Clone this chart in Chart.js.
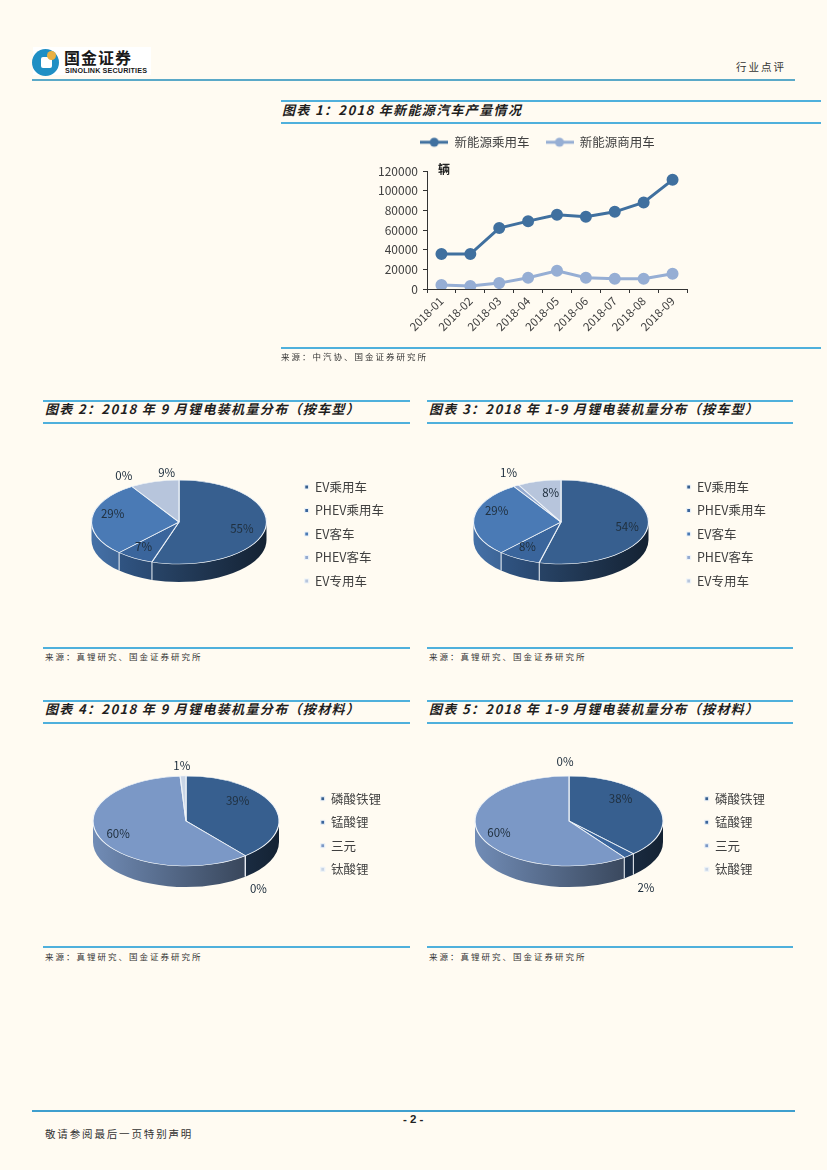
<!DOCTYPE html>
<html>
<head>
<meta charset="utf-8">
<script src="https://cdn.jsdelivr.net/npm/chart.js@4"></script>
<style>
html, body { margin: 0; padding: 0; background: #fffbf2; }
#page { position: relative; width: 827px; height: 1170px; overflow: hidden; background: #fffbf2; font-family: "Noto Sans CJK SC", sans-serif; color: #262626; }
#page > * { position: absolute; }
.rule { height: 2px; background: #4fb0dc; }
.title { font-size: 13px; line-height: 16px; font-weight: 700; font-style: italic; letter-spacing: 1.35px; white-space: pre; color: #1f1f1f; }
.source { font-size: 8.5px; line-height: 12px; letter-spacing: 2px; white-space: pre; color: #333; font-family: "Noto Sans CJK SC", sans-serif; }
</style>
</head>
<body>
<div id="page">
  <div style="left:33px;top:47px;width:118px;height:28px;background:#fff"></div>
  <div style="left:32px;top:49px;width:27px;height:27px;border-radius:50%;background:#1f8fc4"></div>
  <div style="left:41px;top:57px;width:11px;height:11px;background:#fff;border-radius:2px"></div>
  <div style="left:47px;top:51px;width:9px;height:9px;border-radius:50%;background:#e9b042"></div>
  <div style="left:64px;top:47px;font-size:16px;line-height:20px;font-weight:700;color:#1a1a1a;letter-spacing:1px">国金证券</div>
  <div style="left:65px;top:65.5px;font-size:7.2px;line-height:10px;font-weight:700;color:#1a1a1a;font-family:'Liberation Sans',sans-serif;letter-spacing:0.14px">SINOLINK SECURITIES</div>
  <div style="left:32px;top:79px;width:763px;height:1.5px;background:#5aa9c8"></div>
  <div style="left:736px;top:60px;font-size:10.5px;line-height:14px;letter-spacing:2px;color:#333">行业点评</div>

  <div class="rule" style="left:281px;top:100px;width:540px"></div>
  <div class="title" style="left:282px;top:102px">图表 1&#xFF1A;2018 年新能源汽车产量情况</div>
  <div class="rule" style="left:281px;top:122px;width:540px"></div>
  <canvas id="lineChart" width="318" height="230" style="left:370px;top:120px"></canvas>
  <div style="left:438px;top:161px;font-size:12px;line-height:16px;font-weight:700;color:#222">辆</div>
  <div class="rule" style="left:281px;top:347px;width:540px"></div>
  <div class="source" style="left:281px;top:350px">来源&#xFF1A;中汽协、国金证券研究所</div>

  <div class="rule" style="left:43px;top:400px;width:367px"></div>
  <div class="title" style="left:45px;top:401px">图表 2&#xFF1A;2018 年 9 月锂电装机量分布&#xFF08;按车型&#xFF09;</div>
  <div class="rule" style="left:43px;top:422px;width:367px"></div>
  <canvas id="pie2" width="350" height="190" style="left:44px;top:439px"></canvas>
  <div class="rule" style="left:43px;top:647px;width:367px"></div>
  <div class="source" style="left:45px;top:650px">来源&#xFF1A;真锂研究、国金证券研究所</div>

  <div class="rule" style="left:427px;top:400px;width:366px"></div>
  <div class="title" style="left:429px;top:401px">图表 3&#xFF1A;2018 年 1-9 月锂电装机量分布&#xFF08;按车型&#xFF09;</div>
  <div class="rule" style="left:427px;top:422px;width:366px"></div>
  <canvas id="pie3" width="350" height="190" style="left:426px;top:439px"></canvas>
  <div class="rule" style="left:427px;top:647px;width:366px"></div>
  <div class="source" style="left:429px;top:650px">来源&#xFF1A;真锂研究、国金证券研究所</div>

  <div class="rule" style="left:43px;top:700px;width:367px"></div>
  <div class="title" style="left:45px;top:701px">图表 4&#xFF1A;2018 年 9 月锂电装机量分布&#xFF08;按材料&#xFF09;</div>
  <div class="rule" style="left:43px;top:722px;width:367px"></div>
  <canvas id="pie4" width="347" height="190" style="left:44px;top:739px"></canvas>
  <div class="rule" style="left:43px;top:946px;width:367px"></div>
  <div class="source" style="left:45px;top:950px">来源&#xFF1A;真锂研究、国金证券研究所</div>

  <div class="rule" style="left:427px;top:700px;width:366px"></div>
  <div class="title" style="left:429px;top:701px">图表 5&#xFF1A;2018 年 1-9 月锂电装机量分布&#xFF08;按材料&#xFF09;</div>
  <div class="rule" style="left:427px;top:722px;width:366px"></div>
  <canvas id="pie5" width="349" height="190" style="left:426px;top:739px"></canvas>
  <div class="rule" style="left:427px;top:946px;width:366px"></div>
  <div class="source" style="left:429px;top:950px">来源&#xFF1A;真锂研究、国金证券研究所</div>

  <div style="left:32px;top:1110px;width:763px;height:1.5px;background:#3f9fce"></div>
  <div style="left:403px;top:1112px;font-size:11.5px;line-height:14px;font-weight:700;font-family:'Liberation Sans',sans-serif;color:#222">- 2 -</div>
  <div style="left:45px;top:1126px;font-size:10.5px;line-height:16px;letter-spacing:1.85px;color:#333">敬请参阅最后一页特别声明</div>
</div>

<script>
// Chart 1 data
const months = ['2018-01', '2018-02', '2018-03', '2018-04', '2018-05', '2018-06', '2018-07', '2018-08', '2018-09'];
const passengerCars = [35500, 35500, 62000, 69000, 75500, 73500, 78500, 88000, 111000];
const commercialCars = [4000, 3000, 6000, 11500, 18500, 11500, 10500, 10500, 15500];
const yTicksMax = 120000;
const yTicksStep = 20000;

// Pie data, in percent
const vehicleTypes = ['EV乘用车', 'PHEV乘用车', 'EV客车', 'PHEV客车', 'EV专用车'];
const septByVehicle = [55, 7, 29, 0, 9];
const ytdByVehicle = [54, 8, 29, 1, 8];
const materials = ['磷酸铁锂', '锰酸锂', '三元', '钛酸锂'];
const septByMaterial = [39, 0, 60, 1];
const ytdByMaterial = [38, 2, 60, 0];

const vehicleColors = ['#375f8f', '#3a659c', '#4a7ab5', '#94aad0', '#b7c5dc'];
const materialColors = ['#375f8f', '#3a659c', '#7b98c6', '#c9d5e6'];

const TEXT = '#404040';
const FONT = '"Noto Sans CJK SC", sans-serif';

function shade(hex, f) {
    const n = parseInt(hex.slice(1), 16);
    const r = Math.round((n >> 16) * f);
    const g = Math.round(((n >> 8) & 255) * f);
    const b = Math.round((n & 255) * f);
    return `rgb(${r},${g},${b})`;
}

// Squashes the library's arcs into an ellipse and adds the side wall of the pie
const pie3d = {
    id: 'pie3d',
    beforeDatasetsDraw(chart, args, opts) {
        const ctx = chart.ctx;
        const arcs = chart.getDatasetMeta(0).data;
        const colors = chart.data.datasets[0].backgroundColor;
        const r = arcs[0].outerRadius;
        const cx = opts.cx, cy = opts.cy, ry = opts.ry, d = opts.depth;

        ctx.save();
        arcs.forEach((arc, i) => {
            const a0 = Math.max(arc.startAngle, 0);
            const a1 = Math.min(arc.endAngle, Math.PI);
            if (a1 <= a0) return;
            const grad = ctx.createLinearGradient(cx - r, 0, cx + r, 0);
            grad.addColorStop(0, shade(colors[i], 0.92));
            grad.addColorStop(1, shade(colors[i], 0.36));
            ctx.beginPath();
            ctx.ellipse(cx, cy, r, ry, 0, a0, a1);
            ctx.ellipse(cx, cy + d, r, ry, 0, a1, a0, true);
            ctx.closePath();
            ctx.fillStyle = grad;
            ctx.fill();
        });
        // white seams between the slices on the wall
        ctx.strokeStyle = '#eef3f8';
        ctx.lineWidth = 1;
        arcs.forEach(arc => {
            const a = arc.endAngle;
            if (a <= 0 || a >= Math.PI) return;
            const x = cx + r * Math.cos(a), y = cy + ry * Math.sin(a);
            ctx.beginPath();
            ctx.moveTo(x, y);
            ctx.lineTo(x, y + d);
            ctx.stroke();
        });
        ctx.restore();

        ctx.save();
        ctx.translate(cx, cy);
        ctx.scale(1, ry / r);
        ctx.translate(-arcs[0].x, -arcs[0].y);
    },
    afterDatasetsDraw(chart, args, opts) {
        const ctx = chart.ctx;
        ctx.restore();
        const arcs = chart.getDatasetMeta(0).data;
        const values = chart.data.datasets[0].data;
        ctx.save();
        ctx.font = '11.5px ' + FONT;
        ctx.textAlign = 'center';
        ctx.textBaseline = 'middle';
        arcs.forEach((arc, i) => {
            const mid = (arc.startAngle + arc.endAngle) / 2;
            const nudge = opts.nudges[i];
            const x = opts.cx + 0.75 * arc.outerRadius * Math.cos(mid) + nudge[0];
            const y = opts.cy + 0.75 * opts.ry * Math.sin(mid) + nudge[1];
            ctx.fillStyle = '#20303f';
            ctx.fillText(values[i] + '%', x, y);
        });
        ctx.restore();
    }
};

function makePie(id, labels, values, colors, look) {
    new Chart(document.getElementById(id), {
        type: 'pie',
        data: {
            labels: labels,
            datasets: [{
                data: values,
                backgroundColor: colors,
                borderColor: '#eef3f8',
                borderWidth: 1.2,
                radius: look.r
            }]
        },
        options: {
            responsive: false,
            animation: false,
            devicePixelRatio: 1,
            plugins: {
                tooltip: { enabled: false },
                pie3d: look,
                legend: {
                    position: 'right',
                    labels: {
                        boxWidth: 4,
                        boxHeight: 4,
                        padding: look.rowGap,
                        color: TEXT,
                        font: { family: FONT, size: 12.5 }
                    }
                }
            }
        },
        plugins: [pie3d]
    });
}

// Canvas tops sit at 439 / 739, lefts at 44 / 426
makePie('pie2', vehicleTypes, septByVehicle, vehicleColors, {
    r: 87.5, cx: 135, cy: 83, ry: 42, depth: 18, rowGap: 11,
    nudges: [[-2, 2], [-2, -2], [-1, -5], [-20, -20], [6, -19]]
});
makePie('pie3', vehicleTypes, ytdByVehicle, vehicleColors, {
    r: 87.5, cx: 135, cy: 83, ry: 42, depth: 18, rowGap: 11,
    nudges: [[1, 1], [-2, -3], [1, -8], [-19, -22], [6, 1]]
});
makePie('pie4', materials, septByMaterial, materialColors, {
    r: 93, cx: 142, cy: 82, ry: 45, depth: 21, rowGap: 11,
    nudges: [[-14, -9], [28, 42], [-3, 0], [-2, -22]]
});
makePie('pie5', materials, ytdByMaterial, materialColors, {
    r: 94, cx: 143, cy: 82, ry: 45, depth: 21, rowGap: 11,
    nudges: [[-14, -10], [32, 41], [-3, 1], [-4, -26]]
});

// Legend key for the line chart: a short line with a dot on it
function lineKey(color) {
    const c = document.createElement('canvas');
    c.width = 28;
    c.height = 12;
    const g = c.getContext('2d');
    g.strokeStyle = color;
    g.lineWidth = 3;
    g.beginPath();
    g.moveTo(0, 6);
    g.lineTo(28, 6);
    g.stroke();
    g.fillStyle = color;
    g.beginPath();
    g.arc(14, 6, 4.5, 0, Math.PI * 2);
    g.fill();
    return c;
}

// Leaves room under the legend and centres it over the whole figure
const legendRoom = {
    id: 'legendRoom',
    beforeInit(chart) {
        const fit = chart.legend.fit;
        chart.legend.fit = function () {
            fit.call(this);
            this.height = 51;
        };
    },
    afterLayout(chart) {
        chart.legend.left += 9;
        chart.legend.right += 9;
    }
};

function initLineChart() {
    const series = [
        { label: '新能源乘用车', data: passengerCars, color: '#40709f' },
        { label: '新能源商用车', data: commercialCars, color: '#96aed4' }
    ];
    new Chart(document.getElementById('lineChart'), {
        type: 'line',
        data: {
            labels: months,
            datasets: series.map(s => ({
                label: s.label,
                data: s.data,
                borderColor: s.color,
                backgroundColor: s.color,
                borderWidth: 3,
                pointRadius: 4.5,
                pointBackgroundColor: s.color,
                pointBorderColor: s.color,
                tension: 0
            }))
        },
        options: {
            responsive: false,
            animation: false,
            devicePixelRatio: 1,
            layout: { autoPadding: false, padding: { right: 1 } },
            plugins: {
                tooltip: { enabled: false },
                legend: {
                    position: 'top',
                    labels: {
                        usePointStyle: true,
                        pointStyleWidth: 28,
                        boxHeight: 12,
                        padding: 16,
                        color: TEXT,
                        font: { family: FONT, size: 12.5 },
                        generateLabels: chart => chart.data.datasets.map((ds, i) => ({
                            text: ds.label,
                            datasetIndex: i,
                            fontColor: TEXT,
                            pointStyle: lineKey(ds.borderColor),
                            lineWidth: 0
                        }))
                    }
                }
            },
            scales: {
                x: {
                    offset: true,
                    afterFit: scale => { scale.height = 61; },
                    grid: { offset: true, drawOnChartArea: false, tickLength: 4, color: '#333' },
                    border: { color: '#333' },
                    ticks: {
                        minRotation: 45,
                        maxRotation: 45,
                        padding: 1,
                        autoSkip: false,
                        color: TEXT,
                        font: { family: FONT, size: 11.5 }
                    }
                },
                y: {
                    min: 0,
                    max: yTicksMax,
                    afterFit: scale => { scale.width = 57; },
                    grid: { drawOnChartArea: false, tickLength: 4, color: '#333' },
                    border: { color: '#333' },
                    ticks: {
                        stepSize: yTicksStep,
                        padding: 5,
                        callback: v => String(v),
                        color: TEXT,
                        font: { family: FONT, size: 12 }
                    }
                }
            }
        },
        plugins: [legendRoom]
    });
}

initLineChart();
</script>
</body>
</html>
